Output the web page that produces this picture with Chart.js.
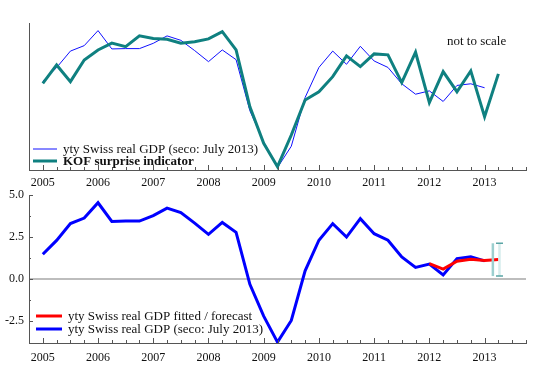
<!DOCTYPE html>
<html>
<head>
<meta charset="utf-8">
<script src="https://cdn.jsdelivr.net/npm/chart.js@4"></script>
<style>
  body { margin: 0; background: #fff; }
  canvas { position: absolute; left: 0; }
  #topChart { top: 0; }
  #botChart { top: 180px; }
</style>
</head>
<body>
<canvas id="topChart" width="550" height="192" style="width:550px;height:192px"></canvas>
<canvas id="botChart" width="550" height="187" style="width:550px;height:187px"></canvas>
<script>
// quarters (decimal years), 2005Q1 .. 2013Q2
const quarters = [2005, 2005.25, 2005.5, 2005.75, 2006, 2006.25, 2006.5, 2006.75,
  2007, 2007.25, 2007.5, 2007.75, 2008, 2008.25, 2008.5, 2008.75,
  2009, 2009.25, 2009.5, 2009.75, 2010, 2010.25, 2010.5, 2010.75,
  2011, 2011.25, 2011.5, 2011.75, 2012, 2012.25, 2012.5, 2012.75,
  2013, 2013.25];
const yearLabels = [2005, 2006, 2007, 2008, 2009, 2010, 2011, 2012, 2013];

// yty Swiss real GDP (seco: July 2013), 2005Q1 .. 2013Q1
const gdp = [1.48, 2.3, 3.3, 3.63, 4.54, 3.43, 3.45, 3.45,
  3.77, 4.22, 3.95, 3.33, 2.66, 3.37, 2.78, -0.31,
  -2.2, -3.75, -2.46, 0.49, 2.31, 3.3, 2.5, 3.59,
  2.7, 2.31, 1.32, 0.69, 0.89, 0.25, 1.22, 1.32,
  1.08];
// KOF surprise indicator (not to scale, shown in GDP-equivalent units), 2005Q1 .. 2013Q2
const kof = [1.35, 2.46, 1.45, 2.76, 3.37, 3.78, 3.57, 4.22,
  4.06, 4.02, 3.78, 3.87, 4.04, 4.48, 3.37, -0.07,
  -2.28, -3.7, -1.78, 0.34, 0.84, 1.75, 3.01, 2.36,
  3.13, 3.07, 1.39, 3.23, 0.18, 2.06, 0.84, 2.1,
  -0.67, 1.92];
// fitted / forecast, 2012Q1 .. 2013Q2
const fittedQuarters = [2012, 2012.25, 2012.5, 2012.75, 2013, 2013.25];
const fitted = [0.92, 0.59, 1.06, 1.18, 1.10, 1.16];
// forecast bands
const bandX = [2013.15, 2013.27];
const bandLow = [0.18, 0.18];
const bandHigh = [2.13, 2.13];
const yTickValues = [-2.5, 0, 2.5, 5];
const yMinorValues = [-1.25, 1.25, 3.75];

const xQuarterTicks = [];
for (let i = 0; i <= 36; i++) xQuarterTicks.push(2004.75 + i * 0.25);

Chart.defaults.font.family = "'Liberation Serif', 'DejaVu Serif', serif";
Chart.defaults.color = '#222';

function pts(xs, ys) {
  return ys.map((v, i) => ({ x: xs[i], y: v }));
}

// short tick marks pointing into the plot
const inwardTicks = {
  id: 'inwardTicks',
  afterDraw(chart, args, opts) {
    const ctx = chart.ctx;
    const xs = chart.scales.x, ys = chart.scales.y;
    const area = chart.chartArea;
    ctx.save();
    ctx.strokeStyle = '#555';
    ctx.lineWidth = 1;
    ctx.beginPath();
    (opts.xTicks || []).forEach(t => {
      const px = Math.round(xs.getPixelForValue(t)) + 0.5;
      const len = Number.isInteger(t) ? 5 : 3;
      ctx.moveTo(px, area.bottom);
      ctx.lineTo(px, area.bottom - len);
    });
    (opts.yMajor || []).forEach(t => {
      const py = Math.round(ys.getPixelForValue(t)) + 0.5;
      ctx.moveTo(area.left, py);
      ctx.lineTo(area.left + 4, py);
    });
    (opts.yMinor || []).forEach(t => {
      const py = Math.round(ys.getPixelForValue(t)) + 0.5;
      ctx.moveTo(area.left, py);
      ctx.lineTo(area.left + 2, py);
    });
    ctx.stroke();
    ctx.restore();
  }
};

// legend drawn inside the plot area
const innerLegend = {
  id: 'innerLegend',
  afterDraw(chart, args, opts) {
    if (!opts.items) return;
    const ctx = chart.ctx;
    ctx.save();
    ctx.textBaseline = 'middle';
    opts.items.forEach((it, i) => {
      const y = opts.y + i * opts.gap;
      ctx.strokeStyle = it.color;
      ctx.lineWidth = it.width;
      ctx.beginPath();
      ctx.moveTo(opts.x, y);
      ctx.lineTo(opts.x + opts.len, y);
      ctx.stroke();
      ctx.fillStyle = '#111';
      ctx.font = (it.bold ? 'bold ' : '') + opts.size + "px 'Liberation Serif'";
      ctx.fillText(it.label, opts.x + opts.len + 6, y + 1);
    });
    if (opts.note) {
      ctx.fillStyle = '#111';
      ctx.font = opts.note.size + "px 'Liberation Serif'";
      ctx.fillText(opts.note.text, opts.note.x, opts.note.y);
    }
    ctx.restore();
  }
};

// forecast bands
const bands = {
  id: 'bands',
  afterDatasetsDraw(chart) {
    if (chart.canvas.id !== 'botChart') return;
    const ctx = chart.ctx;
    const xs = chart.scales.x, ys = chart.scales.y;
    ctx.save();
    const colors = ['#9ccfcf', '#d6ecec'];
    bandX.forEach((bx, i) => {
      const px = xs.getPixelForValue(bx);
      const top = ys.getPixelForValue(bandHigh[i]);
      const bot = ys.getPixelForValue(bandLow[i]);
      ctx.strokeStyle = colors[i];
      ctx.lineWidth = 2.5;
      ctx.beginPath();
      ctx.moveTo(px, top);
      ctx.lineTo(px, bot);
      ctx.stroke();
      if (i === 1) {
        ctx.strokeStyle = '#5aa5a5';
        ctx.lineWidth = 1.5;
        ctx.beginPath();
        ctx.moveTo(px - 3.5, top); ctx.lineTo(px + 3.5, top);
        ctx.moveTo(px - 3.5, bot); ctx.lineTo(px + 3.5, bot);
        ctx.stroke();
      }
    });
    ctx.restore();
  }
};

function xScale(height, pad) {
  return {
    type: 'linear',
    min: 2004.75,
    max: 2013.75,
    grid: { display: false, drawTicks: false },
    border: { display: true, color: '#555', width: 1 },
    afterBuildTicks: s => { s.ticks = yearLabels.map(v => ({ value: v })); },
    afterFit: s => { s.height = height; },
    ticks: { padding: pad, maxRotation: 0, font: { size: 12 }, color: '#111', callback: v => String(v) }
  };
}

new Chart(document.getElementById('topChart'), {
  type: 'line',
  data: {
    datasets: [
      { label: 'KOF surprise indicator', data: pts(quarters, kof), borderColor: '#0f8080', borderWidth: 3, pointRadius: 0, tension: 0 },
      { label: 'yty Swiss real GDP (seco: July 2013)', data: pts(quarters, gdp), borderColor: '#1010ff', borderWidth: 1, pointRadius: 0, tension: 0 }
    ]
  },
  options: {
    responsive: false,
    animation: false,
    layout: { padding: { top: 23, right: 24, left: 0, bottom: 0 } },
    scales: {
      x: xScale(22, 6),
      y: {
        min: -3.9, max: 5.0,
        grid: { display: false, drawTicks: false },
        border: { display: true, color: '#555', width: 1 },
        ticks: { display: false },
        afterFit: s => { s.width = 29; }
      }
    },
    plugins: {
      legend: { display: false },
      tooltip: { enabled: false },
      inwardTicks: { xTicks: xQuarterTicks },
      innerLegend: {
        x: 33, y: 149, gap: 12, len: 24, size: 13,
        items: [
          { label: 'yty Swiss real GDP (seco: July 2013)', color: '#1010ff', width: 1 },
          { label: 'KOF surprise indicator', color: '#0f8080', width: 3, bold: true }
        ],
        note: { text: 'not to scale', x: 447, y: 42, size: 13 }
      }
    }
  },
  plugins: [inwardTicks, innerLegend]
});

new Chart(document.getElementById('botChart'), {
  type: 'line',
  data: {
    datasets: [
      { label: 'yty Swiss real GDP fitted / forecast', data: pts(fittedQuarters, fitted), borderColor: '#ff0000', borderWidth: 3, pointRadius: 0, tension: 0 },
      { label: 'yty Swiss real GDP (seco: July 2013)', data: pts(quarters, gdp), borderColor: '#0000ff', borderWidth: 3, pointRadius: 0, tension: 0 }
    ]
  },
  options: {
    responsive: false,
    animation: false,
    layout: { padding: { top: 15, right: 24, left: 0, bottom: 0 } },
    scales: {
      x: xScale(24, 8),
      y: {
        min: -3.8, max: 5.0,
        grid: {
          drawTicks: false,
          color: c => (c.tick && c.tick.value === 0 ? '#bdbdbd' : 'rgba(0,0,0,0)'),
          lineWidth: 2
        },
        border: { display: true, color: '#555', width: 1 },
        afterBuildTicks: s => { s.ticks = yTickValues.map(v => ({ value: v })); },
        afterFit: s => { s.width = 29; },
        ticks: { padding: 5, font: { size: 12 }, color: '#111', callback: v => v.toFixed(1) }
      }
    },
    plugins: {
      legend: { display: false },
      tooltip: { enabled: false },
      inwardTicks: { xTicks: xQuarterTicks, yMajor: yTickValues, yMinor: yMinorValues },
      innerLegend: {
        x: 36, y: 136, gap: 13, len: 26, size: 13,
        items: [
          { label: 'yty Swiss real GDP fitted / forecast', color: '#ff0000', width: 3 },
          { label: 'yty Swiss real GDP (seco: July 2013)', color: '#0000ff', width: 3 }
        ]
      }
    }
  },
  plugins: [inwardTicks, innerLegend, bands]
});
</script>
</body>
</html>
